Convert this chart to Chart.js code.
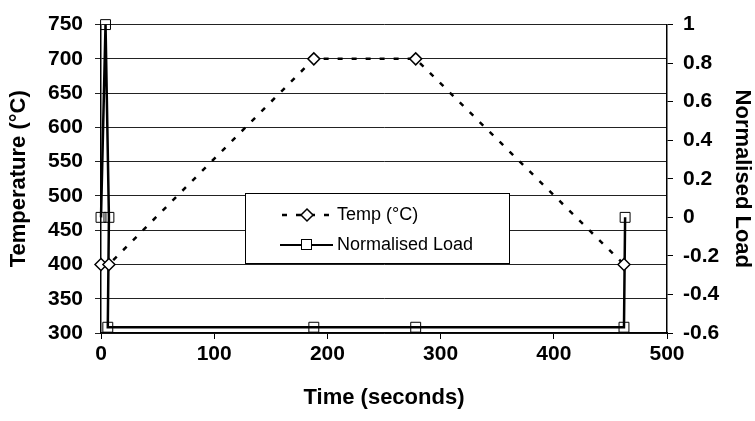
<!DOCTYPE html>
<html>
<head>
<meta charset="utf-8">
<script src="https://cdn.jsdelivr.net/npm/chart.js@4/dist/chart.umd.min.js"></script>
<style>
  body { margin: 0; background: #fff; }
  #wrap { width: 755px; height: 421px; }
</style>
</head>
<body>
<div id="wrap"><canvas id="myChart" width="755" height="421"></canvas></div>
<script>
// datos
const tiempoTemp = [0, 7, 188, 278, 462];
const temperatura = [400, 400, 700, 700, 400];
const tiempoCarga = [0, 4, 7, 6, 188, 278, 462, 463];
const cargaNormalizada = [0, 1, 0, -0.57, -0.57, -0.57, -0.57, 0];

const ejeX = { min: 0, max: 500, step: 100 };
const ejeTemp = { min: 300, max: 750, step: 50 };
const ejeCarga = { min: -0.6, max: 1, step: 0.2 };

const etiquetas = ['Temp (\u00B0C)', 'Normalised Load'];

const fuente = 'Liberation Sans, Arial, sans-serif';
const fuenteTicks = { family: fuente, size: 21, weight: 'bold' };
const fuenteTitulo = { family: fuente, size: 22, weight: 'bold' };

function puntos(xs, ys) {
    return xs.map((x, i) => ({ x: x, y: ys[i] }));
}

// leyenda dibujada dentro del area del grafico
const leyendaCaja = {
    id: 'leyendaCaja',
    afterDatasetsDraw(chart) {
        const ctx = chart.ctx;
        const x0 = 245, y0 = 193, x1 = 509, y1 = 263;
        ctx.save();
        ctx.fillStyle = '#fff';
        ctx.fillRect(x0, y0, x1 - x0, y1 - y0);
        ctx.strokeStyle = '#000';
        ctx.lineWidth = 1;
        ctx.strokeRect(x0 + 0.5, y0 + 0.5, x1 - x0, y1 - y0);

        const filas = [215, 245];
        ctx.font = '18px ' + fuente;
        ctx.textBaseline = 'middle';
        ctx.fillStyle = '#000';

        // Temp
        ctx.lineWidth = 2.5;
        ctx.setLineDash([5, 9]);
        ctx.beginPath();
        ctx.moveTo(282, filas[0]);
        ctx.lineTo(333, filas[0]);
        ctx.stroke();
        ctx.setLineDash([]);
        ctx.lineWidth = 1.5;
        ctx.beginPath();
        ctx.moveTo(307, filas[0] - 6);
        ctx.lineTo(313, filas[0]);
        ctx.lineTo(307, filas[0] + 6);
        ctx.lineTo(301, filas[0]);
        ctx.closePath();
        ctx.fillStyle = '#fff';
        ctx.fill();
        ctx.stroke();
        ctx.fillStyle = '#000';
        ctx.fillText(etiquetas[0], 337, filas[0]);

        // Load
        ctx.lineWidth = 2;
        ctx.beginPath();
        ctx.moveTo(280, filas[1]);
        ctx.lineTo(333, filas[1]);
        ctx.stroke();
        ctx.lineWidth = 1;
        ctx.fillStyle = '#fff';
        ctx.fillRect(301.5, filas[1] - 5.5, 10, 10);
        ctx.strokeRect(301.5, filas[1] - 5.5, 10, 10);
        ctx.fillStyle = '#000';
        ctx.fillText(etiquetas[1], 337, filas[1]);
        ctx.restore();
    }
};

const config = {
    type: 'scatter',
    data: {
        datasets: [{
            label: etiquetas[0],
            data: puntos(tiempoTemp, temperatura),
            yAxisID: 'y',
            showLine: true,
            borderColor: '#000',
            borderWidth: 2.5,
            borderDash: [5, 9],
            pointStyle: 'rectRot',
            pointRadius: 6,
            pointBorderWidth: 1.5,
            pointBackgroundColor: '#fff',
            pointBorderColor: '#000',
            clip: false
        }, {
            label: etiquetas[1],
            data: puntos(tiempoCarga, cargaNormalizada),
            yAxisID: 'y2',
            showLine: true,
            borderColor: '#000',
            borderWidth: 2.5,
            pointStyle: 'rect',
            pointRadius: 7,
            pointBorderWidth: 1,
            pointBackgroundColor: 'rgba(255,255,255,0)',
            pointBorderColor: '#000',
            clip: false
        }]
    },
    options: {
        responsive: false,
        animation: false,
        layout: { padding: { top: 17, left: 0, right: 0, bottom: 0 } },
        plugins: {
            legend: { display: false },
            tooltip: { enabled: false }
        },
        scales: {
            x: {
                type: 'linear',
                min: ejeX.min,
                max: ejeX.max,
                afterFit: s => { s.height = 88; },
                border: { display: true, color: '#000', width: 1.5 },
                grid: { drawOnChartArea: false, drawTicks: true, tickLength: 6, color: '#000' },
                ticks: { stepSize: ejeX.step, color: '#000', font: fuenteTicks, padding: 3, maxRotation: 0 },
                title: { display: true, text: 'Time (seconds)', color: '#000', font: fuenteTitulo, padding: { top: 4, bottom: 10 } }
            },
            y: {
                position: 'left',
                min: ejeTemp.min,
                max: ejeTemp.max,
                afterFit: s => { s.width = 101; },
                border: { display: true, color: '#000', width: 1.5 },
                grid: { color: '#222', lineWidth: 1, tickLength: 6 },
                ticks: { stepSize: ejeTemp.step, color: '#000', font: fuenteTicks, padding: 12 },
                title: { display: true, text: 'Temperature (\u00B0C)', color: '#000', font: fuenteTitulo, padding: { top: 6, bottom: 0 } }
            },
            y2: {
                position: 'right',
                min: ejeCarga.min,
                max: ejeCarga.max,
                afterFit: s => { s.width = 88; },
                border: { display: true, color: '#000', width: 1.5 },
                grid: { drawOnChartArea: false, drawTicks: true, tickLength: 6, color: '#000' },
                ticks: {
                    stepSize: ejeCarga.step,
                    color: '#000',
                    font: fuenteTicks,
                    padding: 10,
                    callback: v => String(Math.round(v * 10) / 10)
                },
                title: { display: true, text: 'Normalised Load', color: '#000', font: fuenteTitulo, padding: { top: 0, bottom: 0 } }
            }
        }
    },
    plugins: [leyendaCaja]
};

new Chart(document.getElementById('myChart').getContext('2d'), config);
</script>
</body>
</html>
